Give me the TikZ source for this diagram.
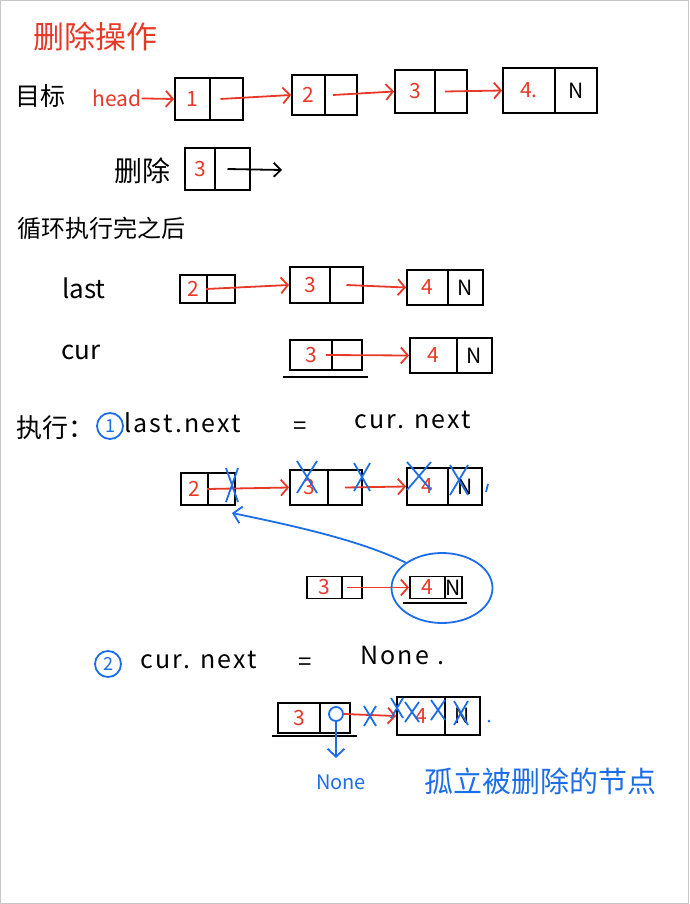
\documentclass[tikz,border=0pt]{standalone}
\usepackage{fontspec}
\setmainfont{Noto Sans CJK SC}
\newfontfamily\widefont[LetterSpace=9]{Noto Sans CJK SC}
\usetikzlibrary{arrows.meta,shapes.geometric}
\definecolor{pred}{RGB}{232,56,40}
\definecolor{pblue}{RGB}{28,110,232}
\newcommand\myxcross[4]{\draw[bx] (#1-#3,#2-#4) -- (#1+#3,#2+#4) (#1+#3,#2-#4) -- (#1-#3,#2+#4);}
\begin{document}
\begin{tikzpicture}[x=1pt,y=-1pt,
  cell/.style={draw=black, line width=1.9pt, inner sep=0pt, font=\fontsize{21}{23}\selectfont, text=pred},
  ncell/.style={cell, text=black},
  txt/.style={inner sep=0pt, font=\fontsize{24}{26}\selectfont},
  wtxt/.style={inner sep=0pt, font=\widefont\fontsize{25}{27}\selectfont},
  rarrow/.style={draw=pred, line width=1.8pt, -{Straight Barb[length=7pt,width=16pt]}},
  karrow/.style={draw=black, line width=1.8pt, -{Straight Barb[length=7pt,width=14pt]}},
  barrow/.style={draw=pblue, line width=1.8pt, -{Straight Barb[length=8pt,width=17pt]}},
  bx/.style={draw=pblue, line width=1.8pt},
  circ/.style={circle, draw=pblue, text=pblue, line width=1.8pt, inner sep=0pt, minimum size=26, font=\fontsize{18}{19}\selectfont}]
\useasboundingbox (0,0) rectangle (689,904);
\draw[gray!45, line width=1pt] (0.5,0.5) rectangle (688.5,903.5);

% title
\node[txt, text=pred, font=\fontsize{31}{33}\selectfont] (title) at (95,37) {删除操作};
\node[txt, font=\fontsize{25}{27}\selectfont] (goal) at (41,96) {目标};
\node[txt, text=pred, font=\fontsize{21}{23}\selectfont] (head) at (117,98) {head};

% row 1
\node[cell, minimum width=35, minimum height=42] (n1v) at (192.5,99) {1};
\node[cell, minimum width=33, minimum height=42] (n1n) at (226.5,99) {};
\node[cell, minimum width=33, minimum height=40] (n2v) at (308.5,95) {2};
\node[cell, minimum width=32, minimum height=40] (n2n) at (341,95) {};
\node[cell, minimum width=40, minimum height=43] (n3v) at (415,91.5) {3};
\node[cell, minimum width=32, minimum height=43] (n3n) at (451,91.5) {};
\node[cell, minimum width=52, minimum height=45] (n4v) at (529,90.5) {4.};
\node[ncell, minimum width=42, minimum height=45] (n4n) at (576,90.5) {N};
\draw[rarrow] (head) -- (n1v.west);
\draw[rarrow] ([xshift=-6]n1n.center) -- (n2v.west);
\draw[rarrow] ([xshift=-8]n2n.center) -- (n3v.west);
\draw[rarrow] ([xshift=-6]n3n.center) -- (n4v.west);

% delete node
\node[txt, font=\fontsize{28}{30}\selectfont] (dellbl) at (142,171) {删除};
\node[cell, minimum width=30, minimum height=42] (d3v) at (200,169) {3};
\node[cell, minimum width=35, minimum height=42] (d3n) at (232.5,169) {};
\coordinate (dend) at (282,170);
\draw[karrow] ([xshift=-5]d3n.center) -- (dend);

\node[txt] (after) at (101,228) {循环执行完之后};

% last row
\node[txt, font=\fontsize{26}{28}\selectfont] (lastlbl) at (84,288) {last};
\node[cell, minimum width=27, minimum height=28] (l2v) at (193.5,289) {2};
\node[cell, minimum width=28, minimum height=28] (l2n) at (221,289) {};
\node[cell, minimum width=40, minimum height=36] (l3v) at (310,285) {3};
\node[cell, minimum width=33, minimum height=36] (l3n) at (346.5,285) {};
\node[cell, minimum width=41, minimum height=35] (l4v) at (427.5,287.5) {4};
\node[ncell, minimum width=35, minimum height=35] (l4n) at (465.5,287.5) {N};
\draw[rarrow] (l2n.west) -- (l3v.west);
\draw[rarrow] (l3n.center) -- (l4v.west);

% cur row
\node[txt, font=\fontsize{26}{28}\selectfont] (curlbl) at (81,352) {cur};
\node[cell, minimum width=42, minimum height=30] (c3v) at (311,355) {3};
\node[cell, minimum width=30, minimum height=30] (c3n) at (347,355) {};
\draw[line width=1.9pt] (283,377) -- (368,377);
\node[cell, minimum width=47, minimum height=35] (c4v) at (433.5,355.5) {4};
\node[ncell, minimum width=35, minimum height=35] (c4n) at (474.5,355.5) {N};
\draw[rarrow] ([xshift=-5]c3n.west) -- (c4v.west);

% step 1
\node[txt, anchor=west, font=\fontsize{26}{28}\selectfont] (exec) at (16,428) {执行：};
\node[circ] (s1) at (110,426) {1};
\node[wtxt, anchor=west] (lastnext) at (124,423) {last.next};
\node[txt] (eq1) at (300,428) {=};
\node[wtxt, anchor=west] (curnext1) at (354,420) {cur. next};

% crossed row
\node[cell, minimum width=27, minimum height=32] (x2v) at (194.5,489) {2};
\node[cell, minimum width=27, minimum height=32] (x2n) at (221.5,489) {};
\node[cell, minimum width=38, minimum height=35] (x3v) at (309,487.5) {3};
\node[cell, minimum width=34, minimum height=35] (x3n) at (345,487.5) {};
\node[cell, minimum width=41, minimum height=37] (x4v) at (427.5,486.5) {4};
\node[ncell, minimum width=34, minimum height=37] (x4n) at (465,486.5) {N};
\draw[rarrow] (x2n.west) -- (x3v.west);
\draw[rarrow] (x3n.center) -- (x4v.west);
\myxcross{232}{485}{6}{17}
\myxcross{307}{477}{10}{16}
\myxcross{362}{477}{8}{14}
\myxcross{419}{476}{12}{14}
\myxcross{459}{480}{9}{15}
\draw[bx] (488,484) -- (486,492);

% row 4 with ring
\node[cell, minimum width=35, minimum height=22] (r3v) at (324.5,587.5) {3};
\node[cell, minimum width=20, minimum height=22] (r3n) at (352,587.5) {};
\node[cell, minimum width=35, minimum height=22] (r4v) at (427.5,587.5) {4};
\node[ncell, minimum width=17, minimum height=22] (r4n) at (453.5,587.5) {N};
\draw[line width=1.9pt] (403,603) -- (467,603);
\draw[rarrow] ([xshift=-5]r3n.center) -- (r4v.west);
\node[ellipse, draw=pblue, line width=1.8pt, minimum width=101, minimum height=70] (ring) at (442,588) {};
\coordinate (tip) at (232,513);
\draw[barrow] (ring.north west) .. controls (360,540) and (290,525) .. (tip);

% step 2
\node[circ] (s2) at (108,664) {2};
\node[wtxt, anchor=west] (curnext2) at (140,660) {cur. next};
\node[txt] (eq2) at (305,664) {=};
\node[wtxt, anchor=west] (none1) at (360,655) {None .};

% final row
\node[cell, minimum width=42, minimum height=30] (s3v) at (299,718) {3};
\node[cell, minimum width=30, minimum height=30] (s3n) at (335,718) {};
\draw[line width=1.9pt] (272,736) -- (357,736);
\node[cell, minimum width=48, minimum height=38] (s4v) at (421,716) {4};
\node[ncell, minimum width=35, minimum height=38] (s4n) at (462.5,716) {N};
\node[circle, draw=pblue, line width=1.8pt, minimum size=14, inner sep=0pt] (nil) at (336,714) {};
\node[inner sep=0pt, text=pblue, font=\fontsize{20}{22}\selectfont] (none2) at (341,782) {None};
\coordinate (nilend) at (336,758);
\draw[barrow] (nil.south) -- (nilend);
\draw[rarrow] (nil.east) -- (s4v.west);
\myxcross{370}{716}{6}{10}
\myxcross{397}{708}{6}{10}
\myxcross{412}{712}{7}{10}
\myxcross{438}{710}{7}{10}
\myxcross{461}{713}{7}{12}
\fill[pblue] (489,721) circle (1.5);
\node[inner sep=0pt, text=pblue, font=\fontsize{29}{31}\selectfont] (iso) at (540,781) {孤立被删除的节点};
\end{tikzpicture}
\end{document}
